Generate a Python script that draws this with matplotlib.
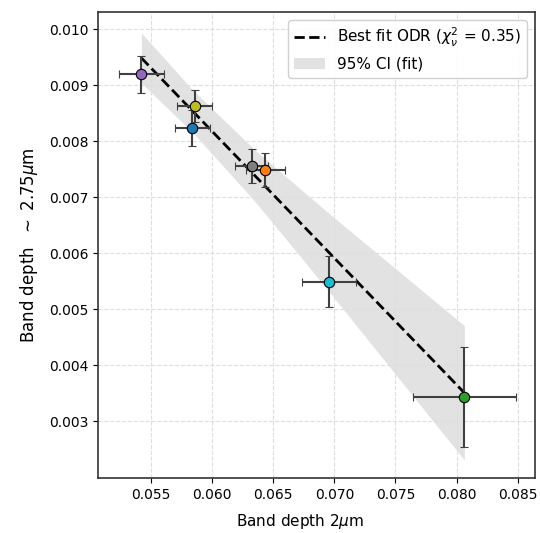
import matplotlib
matplotlib.use("Agg")
import matplotlib.pyplot as plt
import numpy as np

# band depths
names = ["purple", "olive", "blue", "gray", "orange", "cyan", "green"]
bd_2um = [0.05421, 0.05858, 0.05838, 0.06324, 0.06435, 0.06957, 0.08064]
bd_2um_err = [0.00183, 0.00143, 0.00141, 0.00137, 0.00158, 0.00221, 0.0042]
bd_275 = [0.009196, 0.00863, 0.008238, 0.007559, 0.007488, 0.005493, 0.003439]
bd_275_err = [0.00033, 0.000286, 0.000316, 0.0003, 0.00031, 0.00046, 0.00089]
colors = ["tab:purple", "tab:olive", "tab:blue", "tab:gray", "tab:orange", "tab:cyan", "tab:green"]

# ODR fit result and CI half width at the sorted x positions
fit_slope = -0.2262
fit_intercept = 0.02175
chi2_red = 0.35
ci_half = [0.000448, 0.000381, 0.000381, 0.000455, 0.00049, 0.000698, 0.0012]

fig = plt.figure(figsize=(5.4, 5.33), dpi=100)
ax = fig.add_axes([0.1815, 0.1032, 0.8092, 0.8743])

xs = np.sort(np.array(bd_2um))
yfit = fit_slope * xs + fit_intercept
ci = np.array(ci_half)
ax.plot(xs, yfit, "k--", lw=2, label=r"Best fit ODR ($\chi^2_\nu$ = %.2f)" % chi2_red, zorder=2)
ax.fill_between(xs, yfit - ci, yfit + ci, color="0.6", alpha=0.28, lw=0,
                label="95% CI (fit)", zorder=1)

for i in range(len(names)):
    ax.errorbar(bd_2um[i], bd_275[i], xerr=bd_2um_err[i], yerr=bd_275_err[i],
                fmt="o", color=colors[i], mec="k", mew=0.8, ms=7.5,
                ecolor="0.25", elinewidth=1.5, capsize=3.2, capthick=1.5, zorder=3)

ax.set_xlim(0.05066, 0.08642)
ax.set_ylim(0.001988, 0.010309)
ax.set_xticks(np.arange(0.055, 0.0851, 0.005))
ax.set_yticks(np.arange(0.003, 0.01001, 0.001))
ax.set_xlabel(r"Band depth 2$\mu$m", fontsize=11)
ax.xaxis.set_label_coords(0.462, -0.072)
ax.set_ylabel(r"Band depth  $\sim$ 2.75$\mu$m", fontsize=12, labelpad=6)
ax.tick_params(labelsize=10)
ax.grid(True, ls="--", color="0.87", lw=0.8)
for s in ax.spines.values():
    s.set_color("0.2")
    s.set_linewidth(1.2)
ax.legend(loc="upper right", fontsize=11, framealpha=0.9)

fig.savefig("out.png", dpi=100)
